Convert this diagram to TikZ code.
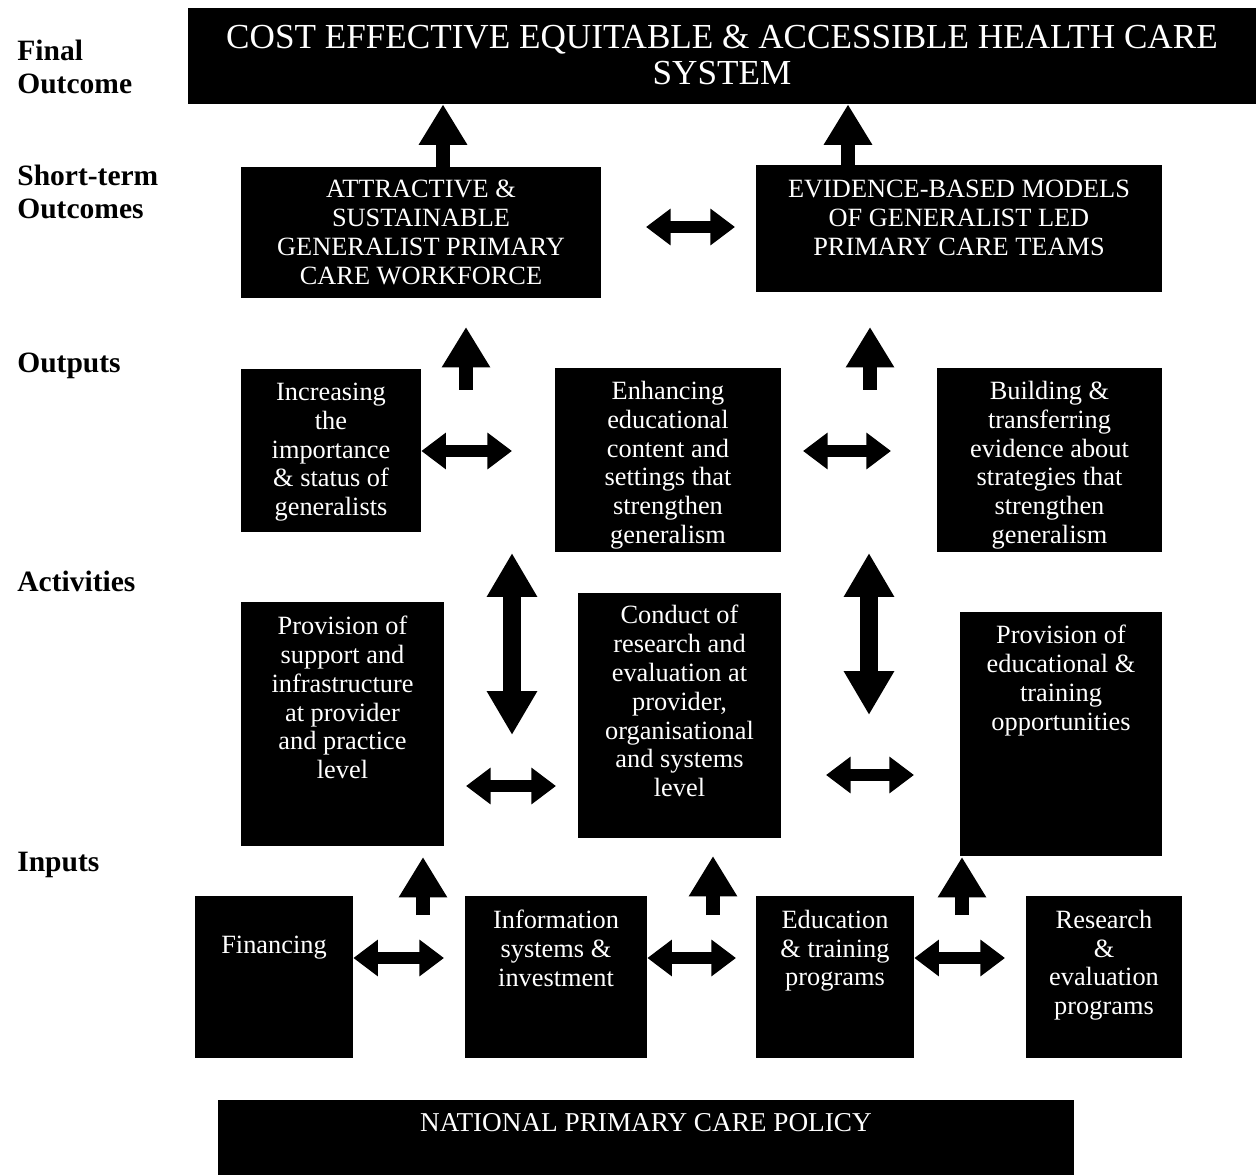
\documentclass[tikz,border=0pt]{standalone}
\usepackage{fontspec}
\setmainfont{Liberation Serif}
\usetikzlibrary{arrows.meta,positioning,fit}

\def\topfont{\fontsize{20}{20.5}\selectfont}
\def\boxfont{\fontsize{15}{16.4}\selectfont}
\def\sidefont{\fontsize{16.8}{18.7}\selectfont\bfseries}

\tikzset{
  blk/.style={fill=black, inner sep=0},
  txt/.style={text=white, align=center, inner sep=0, font=\boxfont},
  side/.style={anchor=north west, align=left, inner sep=0, font=\sidefont},
  uparrow/.style={line width=8pt, -{Triangle[width=26pt,length=23pt]}},
  dblarrow/.style={line width=7pt, {Triangle[width=20pt,length=14pt]}-{Triangle[width=20pt,length=14pt]}},
  bigarrow/.style={line width=10pt, {Triangle[width=27pt,length=25pt]}-{Triangle[width=27pt,length=25pt]}}
}

\begin{document}
\begin{tikzpicture}[x=0.02cm, y=-0.02cm]
      \useasboundingbox (0,0) rectangle (1258,1175);

      % Level labels
      \node[side] (l-fin) at (17,40) {Final\\Outcome};
      \node[side] (l-short) at (17,165) {Short-term\\Outcomes};
      \node[side] (l-out) at (17,353) {Outputs};
      \node[side] (l-act) at (17,571) {Activities};
      \node[side] (l-in) at (17,852) {Inputs};

      % Final outcome
      \node[blk, fit={(188,8) (1256,104)}] (fin) {};
      \node[txt, font=\topfont, below=9.5pt of fin.north] (fin-t) {COST EFFECTIVE EQUITABLE \& ACCESSIBLE HEALTH CARE\\SYSTEM};

      % Short-term outcomes
      \node[blk, fit={(241,167) (601,298)}] (sA) {};
      \node[txt, below=7.5pt of sA.north] (sA-t) {ATTRACTIVE \&\\SUSTAINABLE\\GENERALIST PRIMARY\\CARE WORKFORCE};
      \node[blk, fit={(756,165) (1162,292)}] (sB) {};
      \node[txt, below=8.5pt of sB.north] (sB-t) {EVIDENCE-BASED MODELS\\OF GENERALIST LED\\PRIMARY CARE TEAMS};

      % Outputs
      \node[blk, fit={(241,369) (421,532)}] (o1) {};
      \node[txt, below=8pt of o1.north] (o1-t) {Increasing\\the\\importance\\\& status of\\generalists};
      \node[blk, fit={(555,368) (781,552)}] (o2) {};
      \node[txt, below=7.5pt of o2.north] (o2-t) {Enhancing\\educational\\content and\\settings that\\strengthen\\generalism};
      \node[blk, fit={(937,368) (1162,552)}] (o3) {};
      \node[txt, below=7.5pt of o3.north] (o3-t) {Building \&\\transferring\\evidence about\\strategies that\\strengthen\\generalism};

      % Activities
      \node[blk, fit={(241,602) (444,846)}] (a1) {};
      \node[txt, below=8pt of a1.north] (a1-t) {Provision of\\support and\\infrastructure\\at provider\\and practice\\level};
      \node[blk, fit={(578,593) (781,838)}] (a2) {};
      \node[txt, below=7pt of a2.north] (a2-t) {Conduct of\\research and\\evaluation at\\provider,\\organisational\\and systems\\level};
      \node[blk, fit={(960,612) (1162,856)}] (a3) {};
      \node[txt, below=7.5pt of a3.north] (a3-t) {Provision of\\educational \&\\training\\opportunities};

      % Inputs
      \node[blk, fit={(195,896) (353,1058)}] (i1) {};
      \node[txt, below=23pt of i1.north] (i1-t) {Financing};
      \node[blk, fit={(465,896) (647,1058)}] (i2) {};
      \node[txt, below=8pt of i2.north] (i2-t) {Information\\systems \&\\investment};
      \node[blk, fit={(756,896) (914,1058)}] (i3) {};
      \node[txt, below=8pt of i3.north] (i3-t) {Education\\\& training\\programs};
      \node[blk, fit={(1026,896) (1182,1058)}] (i4) {};
      \node[txt, below=8pt of i4.north] (i4-t) {Research\\\&\\evaluation\\programs};

      % Policy
      \node[blk, fit={(218,1100) (1074,1175)}] (pol) {};
      \node[txt, font=\fontsize{15.5}{17}\selectfont, below=7.5pt of pol.north] (pol-t) {NATIONAL PRIMARY CARE POLICY};

      % Arrow ends
      \coordinate (s-l) at (646,227);  \coordinate (s-r) at (735,227);
      \coordinate (ou1-a) at (466,390); \coordinate (ou1-b) at (466,327);
      \coordinate (ou2-a) at (870,390); \coordinate (ou2-b) at (870,327);
      \coordinate (oh1-r) at (512,451);
      \coordinate (oh2-l) at (803,451); \coordinate (oh2-r) at (891,451);
      \coordinate (v1-a) at (512,553); \coordinate (v1-b) at (512,735);
      \coordinate (v2-a) at (869,553); \coordinate (v2-b) at (869,715);
      \coordinate (ah1-l) at (466,786); \coordinate (ah1-r) at (556,786);
      \coordinate (ah2-l) at (826,775); \coordinate (ah2-r) at (914,775);
      \coordinate (iu1-a) at (423,915); \coordinate (iu1-b) at (423,857);
      \coordinate (iu2-a) at (713,915); \coordinate (iu2-b) at (713,856);
      \coordinate (iu3-a) at (962,915); \coordinate (iu3-b) at (962,857);
      \coordinate (ih1-r) at (444,958);
      \coordinate (ih2-r) at (736,958);
      \coordinate (ih3-r) at (1005,958);

      % Arrows into final outcome
      \draw[uparrow] (sA.north -| 443,0) -- (fin.south -| 443,0);
      \draw[uparrow] (sB.north -| 848,0) -- (fin.south -| 848,0);
      \draw[dblarrow] (s-l) -- (s-r);

      % Arrows around outputs
      \draw[uparrow] (ou1-a) -- (ou1-b);
      \draw[uparrow] (ou2-a) -- (ou2-b);
      \draw[dblarrow] (o1.east |- oh1-r) -- (oh1-r);
      \draw[dblarrow] (oh2-l) -- (oh2-r);

      % Arrows around activities
      \draw[bigarrow] (v1-a) -- (v1-b);
      \draw[bigarrow] (v2-a) -- (v2-b);
      \draw[dblarrow] (ah1-l) -- (ah1-r);
      \draw[dblarrow] (ah2-l) -- (ah2-r);

      % Arrows around inputs
      \draw[uparrow] (iu1-a) -- (iu1-b);
      \draw[uparrow] (iu2-a) -- (iu2-b);
      \draw[uparrow] (iu3-a) -- (iu3-b);
      \draw[dblarrow] (i1.east |- ih1-r) -- (ih1-r);
      \draw[dblarrow] (i2.east |- ih2-r) -- (ih2-r);
      \draw[dblarrow] (i3.east |- ih3-r) -- (ih3-r);
    \end{tikzpicture}
\end{document}
